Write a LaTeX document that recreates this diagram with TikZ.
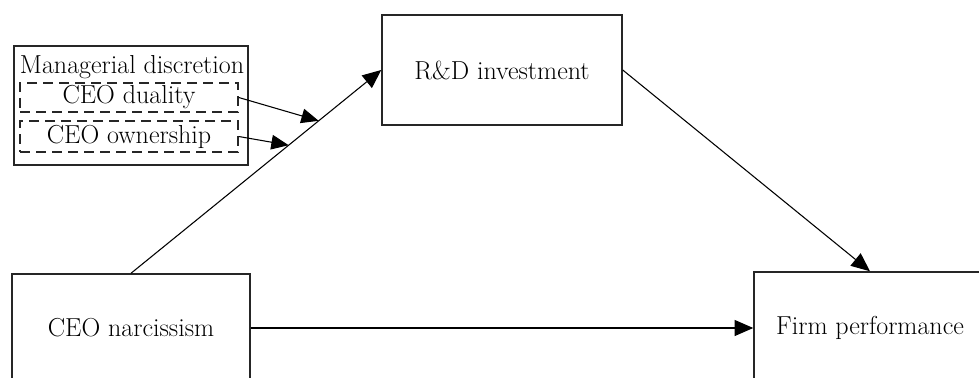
\documentclass[tikz,border=0pt]{standalone}
\usetikzlibrary{arrows.meta,calc}
\begin{document}
\begin{tikzpicture}[x=0.75pt,y=-0.75pt,
  box/.style={draw=black!85,line width=1.1pt,inner sep=0pt,font=\fontsize{19.5}{22}\selectfont},
  dbox/.style={draw=black!85,line width=1.1pt,dash pattern=on 7.5pt off 4.5pt,inner sep=0pt,font=\fontsize{19.5}{22}\selectfont},
  lbl/.style={inner sep=0pt,font=\fontsize{19.5}{22}\selectfont},
  arr/.style={line width=0.8pt,-{Triangle[length=14pt,width=12pt]}},
  sarr/.style={line width=0.8pt,-{Triangle[length=13pt,width=11pt]}}]
\useasboundingbox (0,0) rectangle (979,378);
\begin{scope}
\clip (0,0) rectangle (979,378);
\node[box,minimum width=240*0.75pt,minimum height=110*0.75pt] (rd) at (502,70) {R\&D investment};
\node[box,minimum width=238*0.75pt,minimum height=108*0.75pt] (ceo) at (131,328) {CEO narcissism};
\node[box,minimum width=232*0.75pt,minimum height=112*0.75pt] (firm) at (870,328) {Firm performance};
\node[box,minimum width=234*0.75pt,minimum height=119*0.75pt] (mgr) at (131,105.5) {};
\node[lbl] (mgrt) at (132,67) {Managerial discretion};
\node[dbox,minimum width=218*0.75pt,minimum height=29*0.75pt] (dual) at (129,97.5) {CEO duality};
\node[dbox,minimum width=218*0.75pt,minimum height=31*0.75pt] (own) at (129,136.5) {CEO ownership};
\end{scope}
\draw[arr] (ceo.north) -- (rd.west);
\draw[arr] (rd.east) -- (firm.north);
\draw[arr] (ceo.east) -- (firm.west);
\coordinate (m1) at ($(ceo.north)!0.75!(rd.west)$);
\coordinate (m2) at ($(ceo.north)!0.63!(rd.west)$);
\draw[sarr] (dual.east) -- (m1);
\draw[sarr] (own.east) -- (m2);
\end{tikzpicture}
\end{document}
